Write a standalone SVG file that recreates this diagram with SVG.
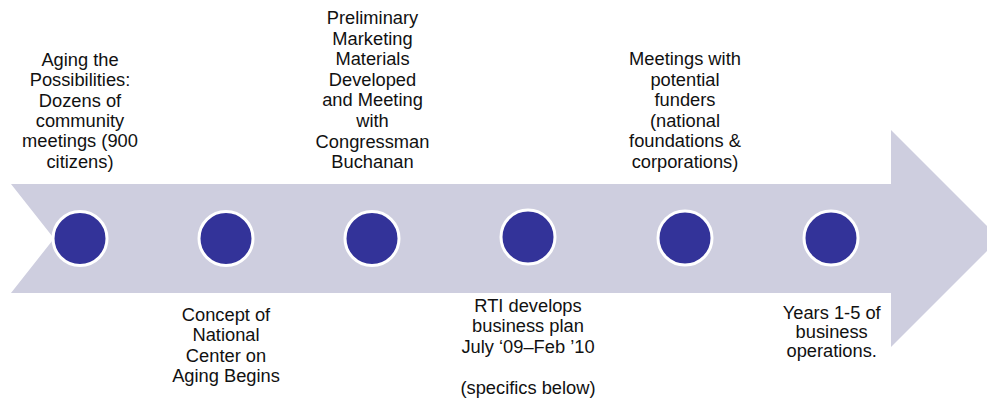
<svg xmlns="http://www.w3.org/2000/svg" width="987" height="402" viewBox="0 0 987 402">
<style>
.lbl{font-family:"Liberation Sans",Arial,sans-serif;font-size:18.3px;fill:#111;text-anchor:middle}
.dot{fill:#333399;stroke:#fff;stroke-width:3}
</style>
<rect width="987" height="402" fill="#fff"/>
<g id="arrow">
<path d="M11,184 L891,184 L891,130 L999.5,238.5 L891,347 L891,293 L11,293 L54,238.5 Z" fill="#CECEDF"/>
</g>
<g id="connectors"></g>
<g id="node1">
<circle class="dot" cx="80" cy="238.5" r="27"/>
<text class="lbl"><tspan x="80" y="66">Aging the</tspan><tspan x="80" y="86.3">Possibilities:</tspan><tspan x="80" y="106.6">Dozens of</tspan><tspan x="80" y="126.9">community</tspan><tspan x="80" y="147.2">meetings (900</tspan><tspan x="80" y="167.5">citizens)</tspan></text>
</g>
<g id="node2">
<circle class="dot" cx="226" cy="238.5" r="27"/>
<text class="lbl"><tspan x="226" y="320.5">Concept of</tspan><tspan x="226" y="341">National</tspan><tspan x="226" y="361.5">Center on</tspan><tspan x="226" y="382">Aging Begins</tspan></text>
</g>
<g id="node3">
<circle class="dot" cx="372" cy="238.5" r="27"/>
<text class="lbl"><tspan x="372.5" y="24">Preliminary</tspan><tspan x="372.5" y="44.6">Marketing</tspan><tspan x="372.5" y="65.2">Materials</tspan><tspan x="372.5" y="85.8">Developed</tspan><tspan x="372.5" y="106.4">and Meeting</tspan><tspan x="372.5" y="127">with</tspan><tspan x="372.5" y="147.6">Congressman</tspan><tspan x="372.5" y="168.2">Buchanan</tspan></text>
</g>
<g id="node4">
<circle class="dot" cx="528" cy="237" r="27"/>
<text class="lbl"><tspan x="528" y="311.7">RTI develops</tspan><tspan x="528" y="332.3">business plan</tspan><tspan x="528" y="352.9">July ‘09–Feb ’10</tspan><tspan x="528" y="394">(specifics below)</tspan></text>
</g>
<g id="node5">
<circle class="dot" cx="685" cy="238" r="27"/>
<text class="lbl"><tspan x="685" y="65">Meetings with</tspan><tspan x="685" y="85.6">potential</tspan><tspan x="685" y="106.2">funders</tspan><tspan x="685" y="126.8">(national</tspan><tspan x="685" y="147.4">foundations &amp;</tspan><tspan x="685" y="168">corporations)</tspan></text>
</g>
<g id="node6">
<circle class="dot" cx="831" cy="238" r="27"/>
<text class="lbl"><tspan x="831.7" y="319">Years 1-5 of</tspan><tspan x="831.7" y="338">business</tspan><tspan x="831.7" y="357">operations.</tspan></text>
</g>
</svg>
